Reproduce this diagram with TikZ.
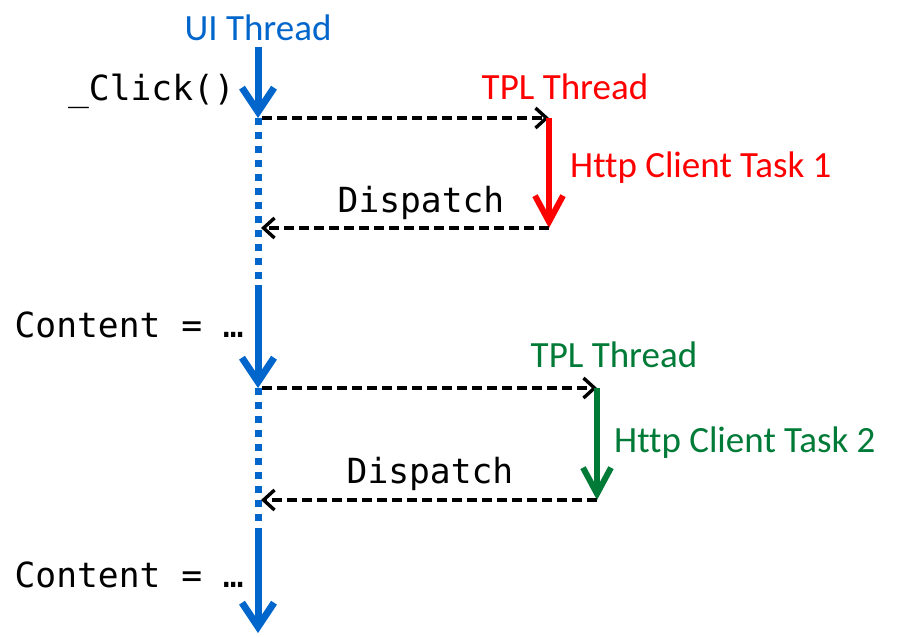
\documentclass[tikz,border=0pt]{standalone}
\usepackage{fontspec}
\setmainfont{Carlito}[Ligatures=NoCommon]
\newfontfamily\codefont{DejaVu Sans Mono}
\usetikzlibrary{arrows.meta,positioning}
\definecolor{uiblue}{RGB}{0,102,204}
\definecolor{tplred}{RGB}{255,0,0}
\definecolor{tplgreen}{RGB}{0,122,55}

\begin{document}
\begin{tikzpicture}[x=1pt,y=-1pt,
  label/.style={font=\fontsize{37}{44}\selectfont,inner sep=0pt},
  code/.style={font=\codefont\fontsize{34.6}{42}\selectfont,inner sep=0pt},
  uirun/.style={uiblue,line width=7pt,-{Straight Barb[length=24pt,width=32pt]}},
  uiwait/.style={uiblue,line width=7pt,dash pattern=on 7pt off 7pt},
  call/.style={black,line width=3.4pt,dash pattern=on 10pt off 5pt,
    -{Straight Barb[length=11pt,width=20pt]}},
  task/.style={line width=6pt,-{Straight Barb[length=26pt,width=28pt]}}]

  \useasboundingbox (0,0) rectangle (913,637);

  % points on the UI thread
  \coordinate (ui start) at (258,47);
  \coordinate (click) at (258,118);
  \coordinate (back1) at (258,228);
  \coordinate (resume1) at (258,285);
  \coordinate (await2) at (258,388);
  \coordinate (back2) at (258,500);
  \coordinate (resume2) at (258,530);
  \coordinate (ui end) at (258,633);

  % points on the TPL threads
  \coordinate (tpl1 start) at (549,118);
  \coordinate (tpl1 end) at (549,228);
  \coordinate (tpl2 start) at (597,388);
  \coordinate (tpl2 end) at (597,500);

  \node[label,uiblue,anchor=base] (ui label) at (258,40) {UI Thread};
  \node[code,anchor=base east] (click label) at (235,100) {\_Click()};
  \node[code,anchor=base east] (content1) at (244,337) {Content = …};
  \node[code,anchor=base east] (content2) at (244,587) {Content = …};

  \node[label,tplred,anchor=base] (tpl1 label) at (565,99) {TPL Thread};
  \node[label,tplred,anchor=base west] (task1 label) at (570,177) {Http Client Task 1};
  \node[code,anchor=base] (dispatch1) at (421,212) {Dispatch};

  \node[label,tplgreen,anchor=base] (tpl2 label) at (614,367) {TPL Thread};
  \node[label,tplgreen,anchor=base west] (task2 label) at (614,452) {Http Client Task 2};
  \node[code,anchor=base] (dispatch2) at (430,483) {Dispatch};

  % UI thread
  \draw[uirun] (ui start) -- (click);
  \draw[uiwait] (click) -- (resume1);
  \draw[uirun] (resume1) -- (await2);
  \draw[uiwait] (await2) -- (resume2);
  \draw[uirun] (resume2) -- (ui end);

  % first task
  \draw[call,shorten <=4pt] (click) -- (tpl1 start);
  \draw[task,tplred] (tpl1 start) -- (tpl1 end);
  \draw[call,shorten >=3pt] (tpl1 end) -- (back1);

  % second task
  \draw[call,shorten <=4pt] (await2) -- (tpl2 start);
  \draw[task,tplgreen] (tpl2 start) -- (tpl2 end);
  \draw[call,shorten >=3pt] (tpl2 end) -- (back2);
\end{tikzpicture}
\end{document}
